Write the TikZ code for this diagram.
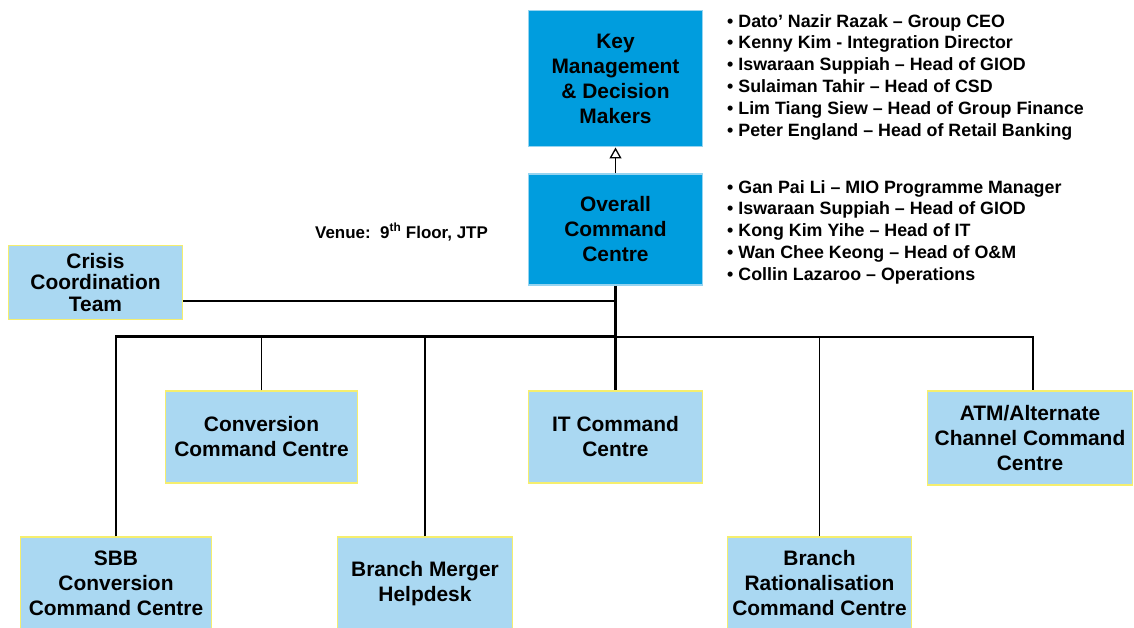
\documentclass[tikz,border=0pt]{standalone}
\usepackage{fontspec}
\setmainfont{Liberation Sans}
\usetikzlibrary{arrows.meta}

\definecolor{deepblue}{RGB}{0,157,222}
\definecolor{deepedge}{RGB}{150,212,240}
\definecolor{paleblue}{RGB}{170,216,242}
\definecolor{paleedge}{RGB}{245,238,110}

\tikzset{
  topbox/.style={draw=deepedge, fill=deepblue, line width=1.5bp, inner sep=0pt,
    align=center, font=\fontsize{21}{25.1}\selectfont\bfseries},
  unitbox/.style={draw=paleedge, fill=paleblue, line width=1.5bp, inner sep=0pt,
    align=center, font=\fontsize{21}{25.1}\selectfont\bfseries},
  namelist/.style={anchor=north west, inner sep=0pt, align=left,
    font=\fontsize{17.9}{21.9}\selectfont\bfseries},
  heavy/.style={line width=2.6bp},
  light/.style={line width=1.4bp},
}

\begin{document}
\begin{tikzpicture}[x=1bp, y=-1bp]
  \useasboundingbox (0,0) rectangle (1134,628);

  % top of the hierarchy
  \node[topbox, minimum width=175, minimum height=137] (key) at (615.5,78.5)
    {Key\\Management\\\& Decision\\Makers};
  \node[topbox, minimum width=175, minimum height=111] (occ) at (615.5,229.5)
    {Overall\\Command\\Centre};

  % side team
  \node[unitbox, minimum width=175, minimum height=74,
        font=\fontsize{21}{22}\selectfont\bfseries] (crisis) at (95.5,282.5)
    {Crisis\\Coordination\\Team};

  % command centres
  \node[unitbox, minimum width=193, minimum height=92] (conv) at (261.5,437)
    {Conversion\\Command Centre};
  \node[unitbox, minimum width=175, minimum height=92] (itcc) at (615.5,437)
    {IT Command\\Centre};
  \node[unitbox, minimum width=206, minimum height=94] (atm) at (1030,438)
    {ATM/Alternate\\Channel Command\\Centre};
  \node[unitbox, minimum width=192, minimum height=93] (sbb) at (116,583.5)
    {SBB\\Conversion\\Command Centre};
  \node[unitbox, minimum width=176, minimum height=93] (bmh) at (425,583.5)
    {Branch Merger\\Helpdesk};
  \node[unitbox, minimum width=185, minimum height=93] (brcc) at (819.5,583.5)
    {Branch\\Rationalisation\\Command Centre};

  % people
  \node[namelist] (keylist) at (727,14)
    {• Dato’ Nazir Razak – Group CEO\\
     • Kenny Kim - Integration Director\\
     • Iswaraan Suppiah – Head of GIOD\\
     • Sulaiman Tahir – Head of CSD\\
     • Lim Tiang Siew – Head of Group Finance\\
     • Peter England – Head of Retail Banking};
  \node[namelist] (occlist) at (727,180)
    {• Gan Pai Li – MIO Programme Manager\\
     • Iswaraan Suppiah – Head of GIOD\\
     • Kong Kim Yihe – Head of IT\\
     • Wan Chee Keong – Head of O\&M\\
     • Collin Lazaroo – Operations};

  \node[anchor=west, inner sep=0pt, font=\fontsize{17}{20}\selectfont\bfseries]
    (venue) at (315,232) {Venue:\ \ 9\textsuperscript{th} Floor, JTP};

  % junction points of the tree
  \coordinate (cj) at (615,301);
  \coordinate (busmid) at (615,336.5);
  \coordinate (busR) at (1033,337);

  % reporting line to the decision makers
  \draw[light, -{Triangle[open, width=12bp, length=11bp, line width=1.3bp]}]
    (occ.north) -- (key.south);

  % trunk and buses
  \draw[light] (crisis.east |- cj) -- (cj);
  \draw[heavy] (occ.south) -- (itcc.north);
  \draw[heavy] (sbb.north) |- (busmid);
  \draw[light] (busmid |- busR) -- (busR) -- (busR |- atm.north);

  % branches off the bus
  \draw[line width=1.1bp] (conv.north) -- (conv.north |- busmid);
  \draw[light] (bmh.north) -- (bmh.north |- busmid);
  \draw[light] (brcc.north) -- (brcc.north |- busR);
\end{tikzpicture}
\end{document}
